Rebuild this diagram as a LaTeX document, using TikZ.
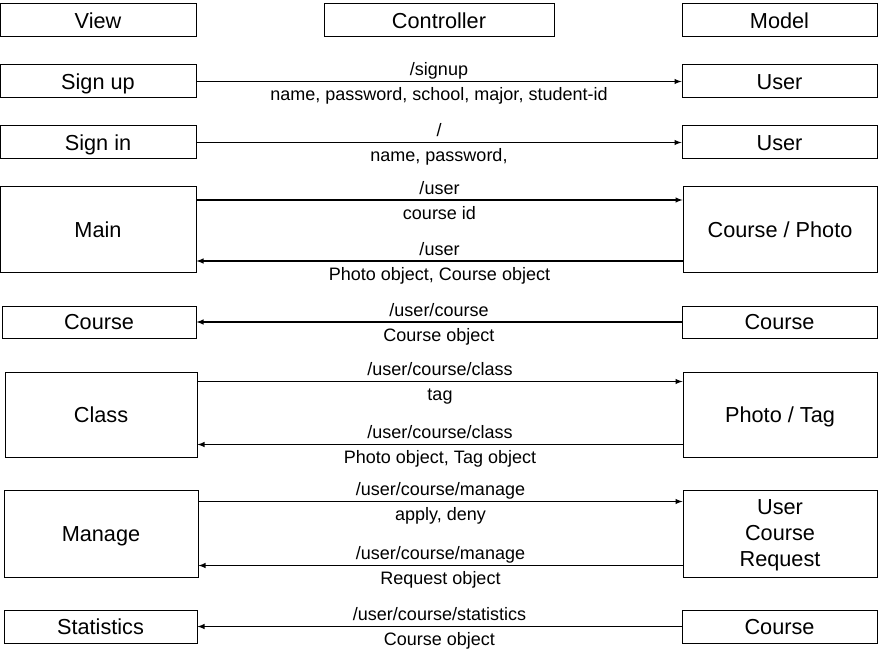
\documentclass[tikz,border=0pt]{standalone}
\usepackage{fontspec}
\setmainfont{Liberation Sans}
\begin{document}
\begin{tikzpicture}[x=1pt,y=-1pt,
    box/.style={draw,line width=1pt,minimum height=33pt,text height=15.5pt,text depth=0pt,font=\fontsize{21.7}{25}\selectfont},
    tall/.style={box,minimum height=86pt},
    lbl/.style={font=\fontsize{18}{21}\selectfont,text height=12pt,text depth=3.5pt,inner sep=0pt},
    go/.style={line width=1.4pt,-latex}]
    \useasboundingbox (0,0) rectangle (880,663);
    % header
    \node [box,minimum width=196pt] (view) at (98,20.5) {View};
    \node [box,minimum width=230pt] (ctrl) at (439,20.5) {Controller};
    \node [box,minimum width=195pt] (model) at (779.5,20.5) {Model};
    % sign up / sign in
    \node [box,minimum width=196pt] (signup) at (98,81.5) {Sign up};
    \node [box,minimum width=195pt] (user1) at (779.5,81.5) {User};
    \draw [go] (signup.east)--(user1.west)
        node [lbl,midway,above=1.5pt] {/signup}
        node [lbl,midway,below=6.5pt] {name, password, school, major, student-id};
    \node [box,minimum width=196pt] (signin) at (98,142.5) {Sign in};
    \node [box,minimum width=195pt] (user2) at (779.5,142.5) {User};
    \draw [go] (signin.east)--(user2.west)
        node [lbl,midway,above=1.5pt] {/}
        node [lbl,midway,below=6.5pt] {name, password,};
    % main
    \node [tall,minimum width=196pt] (main) at (98,229.5) {Main};
    \node [tall,minimum width=194pt] (cp) at (780,229.5) {Course / Photo};
    \draw [go] ([yshift=-14pt]main.north east)--([yshift=-14pt]cp.north west)
        node [lbl,midway,above=1.5pt] {/user}
        node [lbl,midway,below=6.5pt] {course id};
    \draw [go] ([yshift=12pt]cp.south west)--([yshift=12pt]main.south east)
        node [lbl,midway,above=1.5pt] {/user}
        node [lbl,midway,below=6.5pt] {Photo object, Course object};
    % course
    \node [box,minimum width=194pt,minimum height=32pt] (course) at (99,322) {Course};
    \node [box,minimum width=195pt,minimum height=32pt] (mcourse) at (779.5,322) {Course};
    \draw [go] (mcourse.west)--(course.east)
        node [lbl,midway,above=1.5pt] {/user/course}
        node [lbl,midway,below=6.5pt] {Course object};
    % class
    \node [tall,minimum width=192pt,minimum height=85pt] (class) at (101,414.5) {Class};
    \node [tall,minimum width=194pt,minimum height=85pt] (phototag) at (780,414.5) {Photo / Tag};
    \draw [go] ([yshift=-10pt]class.north east)--([yshift=-10pt]phototag.north west)
        node [lbl,midway,above=1.5pt] {/user/course/class}
        node [lbl,midway,below=6.5pt] {tag};
    \draw [go] ([yshift=13pt]phototag.south west)--([yshift=13pt]class.south east)
        node [lbl,midway,above=1.5pt] {/user/course/class}
        node [lbl,midway,below=6.5pt] {Photo object, Tag object};
    % manage
    \node [tall,minimum width=194pt,minimum height=87pt] (manage) at (101,533.5) {Manage};
    \node [draw,line width=1pt,minimum width=194pt,minimum height=87pt,align=center,text depth=0pt,
        font=\fontsize{21.7}{25}\selectfont] (ucr) at (780,533.5) {User\\[1pt]Course\\[1pt]Request};
    \draw [go] ([yshift=-12pt]manage.north east)--([yshift=-12pt]ucr.north west)
        node [lbl,midway,above=1.5pt] {/user/course/manage}
        node [lbl,midway,below=6.5pt] {apply, deny};
    \draw [go] ([yshift=12pt]ucr.south west)--([yshift=12pt]manage.south east)
        node [lbl,midway,above=1.5pt] {/user/course/manage}
        node [lbl,midway,below=6.5pt] {Request object};
    % statistics
    \node [box,minimum width=193pt] (stats) at (100.5,626.5) {Statistics};
    \node [box,minimum width=195pt] (mcourse2) at (779.5,626.5) {Course};
    \draw [go] (mcourse2.west)--(stats.east)
        node [lbl,midway,above=1.5pt] {/user/course/statistics}
        node [lbl,midway,below=6.5pt] {Course object};
\end{tikzpicture}
\end{document}
